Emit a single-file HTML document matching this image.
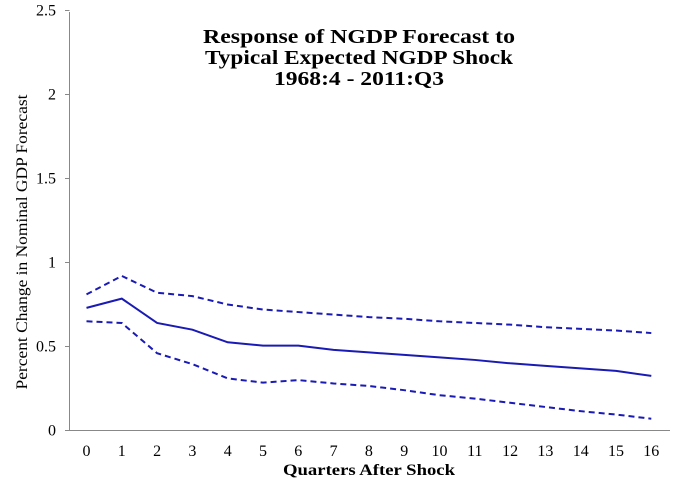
<!DOCTYPE html>
<html><head><meta charset="utf-8"><style>
body{margin:0;background:#fff}
svg{display:block;font-family:"Liberation Serif",serif}
</style></head><body>
<svg id="c" width="681" height="487">
<g id="axes"></g><g id="series"></g>
<g font-size="20" font-weight="bold" text-anchor="middle">
<text x="359" y="43" textLength="312" lengthAdjust="spacingAndGlyphs">Response of NGDP  Forecast to</text>
<text x="359" y="64" textLength="308" lengthAdjust="spacingAndGlyphs">Typical Expected NGDP Shock</text>
<text x="359" y="85" textLength="170" lengthAdjust="spacingAndGlyphs">1968:4 - 2011:Q3</text>
</g>
<text x="369" y="475" text-anchor="middle" font-size="16" font-weight="bold" textLength="172" lengthAdjust="spacingAndGlyphs">Quarters After Shock</text>
<text transform="translate(27,242) rotate(-90)" text-anchor="middle" font-size="16" textLength="295" lengthAdjust="spacingAndGlyphs">Percent Change in Nominal GDP Forecast</text>
</svg>
<script>
const quarters=[0,1,2,3,4,5,6,7,8,9,10,11,12,13,14,15,16];
const yTicks=[0,0.5,1,1.5,2,2.5];
const yTickLabels=["0","0.5","1","1.5","2","2.5"];
const response=[0.73,0.785,0.64,0.60,0.525,0.505,0.505,0.48,0.465,0.45,0.435,0.42,0.40,0.385,0.37,0.355,0.325];
const upperBand=[0.81,0.92,0.82,0.80,0.75,0.72,0.705,0.69,0.675,0.665,0.65,0.64,0.63,0.615,0.605,0.595,0.58];
const lowerBand=[0.65,0.64,0.46,0.395,0.31,0.285,0.30,0.28,0.265,0.24,0.21,0.19,0.165,0.14,0.115,0.095,0.07];
const NS="http://www.w3.org/2000/svg";
const X=q=>86.5+q*35.3, Y=v=>430.5-v*168;
function mk(t,a,p){const e=document.createElementNS(NS,t);for(const k in a)e.setAttribute(k,a[k]);p.appendChild(e);return e;}
const ax=document.getElementById('axes'), se=document.getElementById('series');
let l=mk('line',{x1:69.5,y1:12,x2:69.5,y2:430.5,stroke:'#888'},ax);


l=mk('line',{x1:69.5,y1:430.5,x2:670,y2:430.5,stroke:'#888'},ax);


yTicks.forEach((v,i)=>{
 mk('line',{x1:65,x2:69.5,y1:Y(v),y2:Y(v),stroke:'#888'},ax);
 const t=mk('text',{x:56,y:Y(v)+5,'text-anchor':'end','font-size':16},ax);t.textContent=yTickLabels[i];
 
 
});
quarters.forEach(q=>{
 const t=mk('text',{x:X(q),y:456,'text-anchor':'middle','font-size':16},ax);t.textContent=q;
 
 
});
function path(arr,dash,name){
 const d=arr.map((v,i)=>(i?'L':'M')+X(quarters[i])+','+Y(v)).join(' ');
 const p=mk('path',{d:d,fill:'none',stroke:'#1a1ab4','stroke-width':2},se);
 if(dash)p.setAttribute('stroke-dasharray','6,4');
 
 
}
path(upperBand,true,'upper-band-line');
path(response,false,'response-line');
path(lowerBand,true,'lower-band-line');
</script>
</body></html>
